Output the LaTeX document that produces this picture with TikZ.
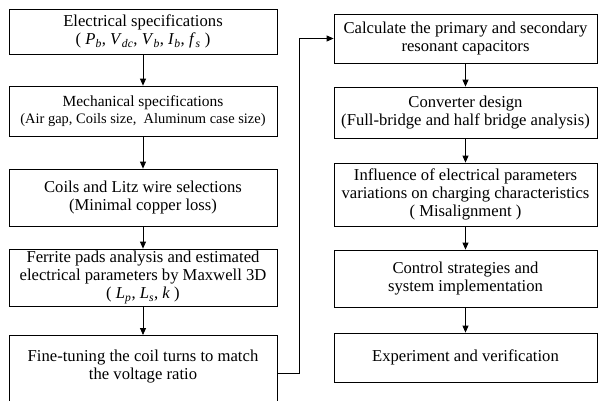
\documentclass[tikz,border=0pt]{standalone}
\usepackage{fontspec}
\setmainfont{Liberation Serif}
\usetikzlibrary{arrows.meta}

\begin{document}
\begin{tikzpicture}[x=1bp,y=1bp,
  box/.style={draw, line width=0.8bp, align=center, inner sep=2bp, font=\fontsize{16.7}{18}\selectfont},
  lbox/.style={box, minimum width=268bp},
  rbox/.style={box, minimum width=263bp},
  flow/.style={-{Triangle[length=7bp,width=6bp]}, line width=0.8bp}]
\useasboundingbox (0,0) rectangle (598,-400);
% left column
\node [lbox, minimum height=45bp] (elec) at (143,-31.5) {Electrical specifications\\( \textit{P}\textsubscript{\textit{b}}, \textit{V}\textsubscript{\textit{dc}}, \textit{V}\textsubscript{\textit{b}}, \textit{I}\textsubscript{\textit{b}}, \textit{f}\textsubscript{\textit{s}} )};
\node [lbox, minimum height=50bp, font=\fontsize{14.5}{17}\selectfont] (mech) at (143,-111) {\fontsize{15.5}{17}\selectfont Mechanical specifications\\(Air gap, Coils size,\ \ Aluminum case size)};
\node [lbox, minimum height=57bp] (coil) at (143,-197.5) {Coils and Litz wire selections\\(Minimal copper loss)};
\node [lbox, minimum height=57bp] (pads) at (143,-277.5) {Ferrite pads analysis and estimated\\electrical parameters by Maxwell 3D\\( \textit{L}\textsubscript{\textit{p}}, \textit{L}\textsubscript{\textit{s}}, \textit{k} )};
\node [lbox, anchor=north, inner ysep=15bp, text depth=40bp] (fine) at (143,-335) {Fine-tuning the coil turns to match\\the voltage ratio};
% right column
\node [rbox, minimum height=49bp] (calc) at (465.5,-38.5) {Calculate the primary and secondary\\resonant capacitors};
\node [rbox, minimum height=51bp] (conv) at (465.5,-112.5) {Converter design\\(Full-bridge and half bridge analysis)};
\node [rbox, minimum height=63bp] (infl) at (465.5,-194.5) {Influence of electrical parameters\\variations on charging characteristics\\( Misalignment )};
\node [rbox, minimum height=57bp] (ctrl) at (465.5,-278.5) {Control strategies and\\system implementation};
\node [rbox, minimum height=49bp] (expr) at (465.5,-357.5) {Experiment and verification};
% arrows
\draw [flow] (elec) -- (mech);
\draw [flow] (mech) -- (coil);
\draw [flow] (coil) -- (pads);
\draw [flow] (pads) -- (fine);
\draw [flow] ([yshift=-38bp]fine.north east) -- ++(22,0) |- (calc.west);
\draw [flow] (calc) -- (conv);
\draw [flow] (conv) -- (infl);
\draw [flow] (infl) -- (ctrl);
\draw [flow] (ctrl) -- (expr);
\end{tikzpicture}
\end{document}
